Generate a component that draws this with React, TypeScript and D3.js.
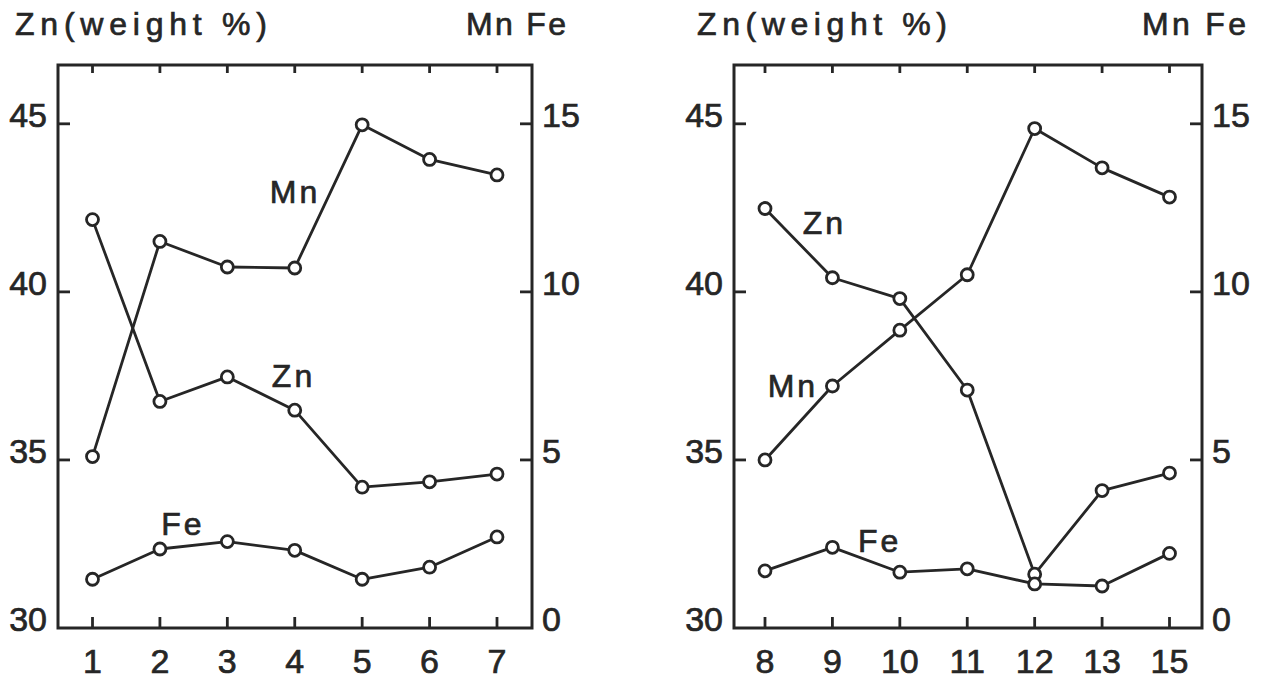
import React, { useRef, useEffect } from 'react';
import * as d3 from 'd3';

// samples, left and right panel
const leftSamples = ['1', '2', '3', '4', '5', '6', '7'];
const leftZn = [42.15, 36.74, 37.47, 36.48, 34.19, 34.35, 34.58];
const leftMn = [5.1, 11.5, 10.74, 10.71, 14.97, 13.94, 13.48];
const leftFe = [1.45, 2.35, 2.57, 2.31, 1.45, 1.81, 2.71];

const rightSamples = ['8', '9', '10', '11', '12', '13', '15'];
const rightZn = [42.48, 40.42, 39.8, 37.08, 31.6, 34.09, 34.61];
const rightMn = [5.0, 7.2, 8.86, 10.51, 14.86, 13.69, 12.82];
const rightFe = [1.7, 2.4, 1.66, 1.76, 1.31, 1.25, 2.22];

const znTicks = [30, 35, 40, 45];
const mnFeTicks = [0, 5, 10, 15];

// label anchors in data units: [index position, value]
const leftLabels = [
  { text: 'Mn', axis: 'r', at: [2.63, 12.65] },
  { text: 'Zn', axis: 'l', at: [2.66, 37.17] },
  { text: 'Fe', axis: 'r', at: [1.02, 2.77] },
];
const rightLabels = [
  { text: 'Zn', axis: 'l', at: [0.56, 41.73] },
  { text: 'Mn', axis: 'r', at: [0.04, 6.875] },
  { text: 'Fe', axis: 'r', at: [1.38, 2.26] },
];

const INK = '#262626';
const FONT = '"Liberation Sans", Arial, sans-serif';

const txt = (g, x, y, s, size, anchor = 'start') =>
  g.append('text').attr('x', x).attr('y', y).attr('text-anchor', anchor)
    .attr('font-family', FONT).attr('font-size', size).attr('fill', INK)
    .attr('stroke', INK).attr('stroke-width', 0.7).text(s);

const drawPanel = (svg, opts) => {
  const { left, right, top, bottom, x0, x1, samples, zn, mn, fe, labels, titleX, titleW, mnfeX, mnfeW } = opts;
  const g = svg.append('g');

  const x = d3.scaleLinear().domain([0, samples.length - 1]).range([x0, x1]);
  const yL = d3.scaleLinear().domain([30, 46.75]).range([bottom, top]);
  const yR = d3.scaleLinear().domain([0, 16.75]).range([bottom, top]);

  // frame
  g.append('rect')
    .attr('x', left).attr('y', top)
    .attr('width', right - left).attr('height', bottom - top)
    .attr('fill', 'none').attr('stroke', INK).attr('stroke-width', 3);

  // x ticks bottom + top (inward)
  samples.forEach((s, i) => {
    g.append('line').attr('x1', x(i)).attr('x2', x(i)).attr('y1', bottom).attr('y2', bottom - 11)
      .attr('stroke', INK).attr('stroke-width', 2.8);
    g.append('line').attr('x1', x(i)).attr('x2', x(i)).attr('y1', top).attr('y2', top + 8)
      .attr('stroke', INK).attr('stroke-width', 2.8);
    txt(g, x(i), 673, s, 34, 'middle');
  });

  // left axis ticks
  znTicks.forEach(t => {
    if (t > 30) {
      g.append('line').attr('x1', left).attr('x2', left + 12).attr('y1', yL(t)).attr('y2', yL(t))
        .attr('stroke', INK).attr('stroke-width', 2.8);
    }
    txt(g, left - 11, yL(t) + 3, t, 34, 'end');
  });

  // right axis ticks
  mnFeTicks.forEach(t => {
    if (t > 0) {
      g.append('line').attr('x1', right).attr('x2', right - 12).attr('y1', yR(t)).attr('y2', yR(t))
        .attr('stroke', INK).attr('stroke-width', 2.8);
    }
    txt(g, right + 10, yR(t) + 3, t, 34, 'start');
  });

  // titles
  txt(g, titleX, 35, 'Zn(weight %)', 32)
    .attr('textLength', titleW).attr('lengthAdjust', 'spacing');
  txt(g, mnfeX, 35, 'Mn Fe', 32)
    .attr('textLength', mnfeW).attr('lengthAdjust', 'spacing');

  // series
  const series = [
    { vals: zn, y: yL },
    { vals: mn, y: yR },
    { vals: fe, y: yR },
  ];
  series.forEach(s => {
    const line = d3.line().x((d, i) => x(i)).y(d => s.y(d));
    g.append('path').attr('d', line(s.vals)).attr('fill', 'none')
      .attr('stroke', INK).attr('stroke-width', 2.8).attr('stroke-linejoin', 'round');
  });
  series.forEach(s => {
    g.append('g').selectAll('circle').data(s.vals).join('circle')
      .attr('cx', (d, i) => x(i)).attr('cy', d => s.y(d)).attr('r', 6)
      .attr('fill', '#fff').attr('stroke', INK).attr('stroke-width', 2.8);
  });

  // series labels
  labels.forEach(l => {
    const yy = l.axis === 'l' ? yL : yR;
    txt(g, x(l.at[0]), yy(l.at[1]), l.text, 32).attr('letter-spacing', 3);
  });
};

const App = () => {
  const svgRef = useRef(null);

  useEffect(() => {
    const svg = d3.select(svgRef.current);
    svg.selectAll('*').remove();

    drawPanel(svg, {
      left: 58, right: 532, top: 65, bottom: 628, x0: 92.5, x1: 497,
      samples: leftSamples, zn: leftZn, mn: leftMn, fe: leftFe, labels: leftLabels,
      titleX: 15, titleW: 252, mnfeX: 466, mnfeW: 100,
    });
    drawPanel(svg, {
      left: 734, right: 1202, top: 65, bottom: 628, x0: 765, x1: 1169.5,
      samples: rightSamples, zn: rightZn, mn: rightMn, fe: rightFe, labels: rightLabels,
      titleX: 697, titleW: 250, mnfeX: 1142, mnfeW: 104,
    });
  }, []);

  return (
    <svg ref={svgRef} width={1263} height={682}
      style={{ position: 'absolute', left: 0, top: 0, background: '#fff' }} />
  );
};

export default App;
